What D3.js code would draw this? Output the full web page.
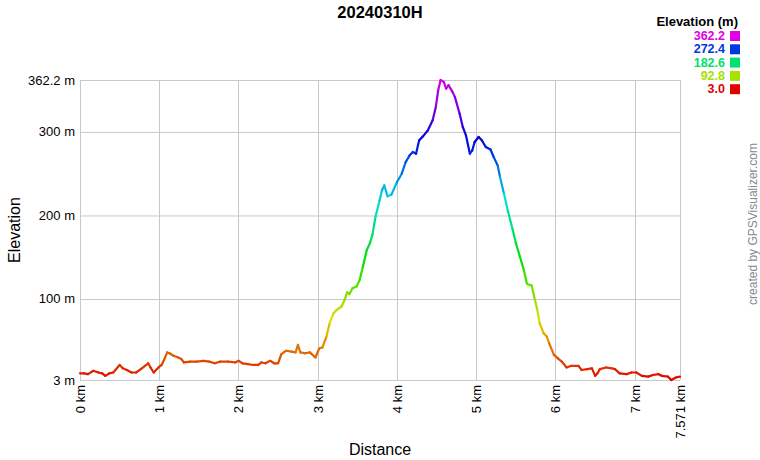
<!DOCTYPE html>
<html><head><meta charset="utf-8">
<script src="https://cdn.jsdelivr.net/npm/d3@7"></script>
<style>body{margin:0;background:#fff}svg{display:block}text{font-family:"Liberation Sans",Arial,sans-serif}</style>
</head><body>
<script>
const chartTitle = "20240310H";
const distKm = [0.00,0.05,0.10,0.17,0.23,0.28,0.32,0.37,0.42,0.50,0.54,0.59,0.65,0.71,0.78,0.86,0.89,0.93,0.99,1.03,1.06,1.10,1.13,1.18,1.24,1.28,1.31,1.39,1.47,1.56,1.63,1.70,1.77,1.87,1.96,2.00,2.05,2.12,2.19,2.25,2.29,2.34,2.40,2.45,2.50,2.54,2.60,2.67,2.72,2.75,2.78,2.84,2.90,2.97,3.02,3.06,3.11,3.15,3.20,3.24,3.30,3.34,3.37,3.40,3.44,3.49,3.53,3.57,3.62,3.66,3.69,3.73,3.78,3.81,3.84,3.88,3.93,4.00,4.06,4.11,4.16,4.20,4.24,4.28,4.33,4.39,4.45,4.49,4.52,4.55,4.59,4.62,4.65,4.70,4.73,4.79,4.83,4.87,4.92,4.95,4.98,5.03,5.07,5.12,5.18,5.22,5.27,5.30,5.35,5.40,5.46,5.50,5.55,5.60,5.64,5.70,5.74,5.77,5.80,5.85,5.89,5.92,5.98,6.03,6.08,6.14,6.20,6.29,6.33,6.40,6.46,6.50,6.53,6.56,6.64,6.71,6.75,6.81,6.90,6.96,7.02,7.09,7.17,7.23,7.30,7.34,7.42,7.46,7.52,7.571];
const elevM = [11,11,10,14,12,11,8,11,12,21,17,15,12,12,17,23,18,12,18,21,27,36,35,32,30,28,24,25,25,26,25,23,25,25,24,26,23,22,21,21,24,23,26,23,23,34,38,37,36,45,36,35,36,30,41,42,55,71,83,87,91,99,108,106,113,115,123,139,159,167,177,199,218,230,236,223,225,240,250,264,272,276,274,290,295,302,314,330,350,362.2,360,352,356,348,342,322,306,296,274,278,288,294,290,282,279,270,260,246,226,205,183,167,151,135,118,116,99,87,71,59,55,47,33,29,25,18,20,20,15,16,17,8,11,16,18,17,16,11,10,12,12,8,7,9,10,8,7,3,6,7];
const xTicks = [0,1,2,3,4,5,6,7,7.571];
const xTickLabels = ["0 km","1 km","2 km","3 km","4 km","5 km","6 km","7 km","7.571 km"];
const yTicks = [3,100,200,300,362.2];
const yTickLabels = ["3 m","100 m","200 m","300 m","362.2 m"];
const legendValues = [362.2,272.4,182.6,92.8,3.0];
const legendLabels = ["362.2","272.4","182.6","92.8","3.0"];

const W=760,H=460;
const svg=d3.select("body").append("svg").attr("width",W).attr("height",H);
const x=d3.scaleLinear().domain([0,7.571]).range([80,680]);
const y=d3.scaleLinear().domain([3,362.2]).range([380,80]);
const color=e=>d3.hsl(300*(e-3)/(362.2-3),1,0.44).formatHex();
const grid="#c8c8c8";

// gridlines
svg.append("g").selectAll("line").data(yTicks).join("line")
  .attr("x1",80).attr("x2",680).attr("y1",d=>y(d)+0.5).attr("y2",d=>y(d)+0.5)
  .attr("stroke",grid);
svg.append("g").selectAll("line").data(xTicks).join("line")
  .attr("y1",80).attr("y2",380).attr("x1",d=>Math.round(x(d))+0.5).attr("x2",d=>Math.round(x(d))+0.5)
  .attr("stroke",grid);

// axes labels
svg.append("g").selectAll("text").data(yTicks).join("text")
  .attr("x",75).attr("y",d=>y(d)+4.5).attr("text-anchor","end")
  .attr("font-size",13).attr("fill","#000").text((d,i)=>yTickLabels[i]);
svg.append("g").selectAll("text").data(xTicks).join("text")
  .attr("transform",d=>`translate(${x(d)+5},385) rotate(-90)`)
  .attr("text-anchor","end").attr("font-size",13).attr("fill","#000")
  .text((d,i)=>xTickLabels[i]);

// profile line, coloured by elevation
const pts=distKm.map((d,i)=>[d,elevM[i]]);
svg.append("g").selectAll("line").data(d3.pairs(pts)).join("line")
  .attr("x1",d=>x(d[0][0])).attr("y1",d=>y(d[0][1]))
  .attr("x2",d=>x(d[1][0])).attr("y2",d=>y(d[1][1]))
  .attr("stroke",d=>color((d[0][1]+d[1][1])/2))
  .attr("stroke-width",2.2).attr("stroke-linecap","round");

// titles
svg.append("text").attr("x",380).attr("y",18).attr("text-anchor","middle")
  .attr("font-size",16.5).attr("font-weight","bold").text(chartTitle);
svg.append("text").attr("x",380).attr("y",455).attr("text-anchor","middle")
  .attr("font-size",16).text("Distance");
svg.append("text").attr("transform","translate(20,230) rotate(-90)").attr("text-anchor","middle")
  .attr("font-size",16).text("Elevation");
svg.append("text").attr("transform","translate(757,224) rotate(-90)").attr("text-anchor","middle")
  .attr("font-size",12).attr("fill","#888").text("created by GPSVisualizer.com");

// legend
svg.append("text").attr("x",738).attr("y",26).attr("text-anchor","end")
  .attr("font-size",13).attr("font-weight","bold").text("Elevation (m)");
const lg=svg.append("g").selectAll("g").data(legendValues).join("g")
  .attr("transform",(d,i)=>`translate(0,${i*13.3})`);
lg.append("rect").attr("x",730).attr("y",31).attr("width",10).attr("height",10).attr("fill",d=>color(d));
lg.append("text").attr("x",725).attr("y",40).attr("text-anchor","end")
  .attr("font-size",12.5).attr("font-weight","bold").attr("fill",d=>color(d)).text((d,i)=>legendLabels[i]);
</script>
</body></html>
